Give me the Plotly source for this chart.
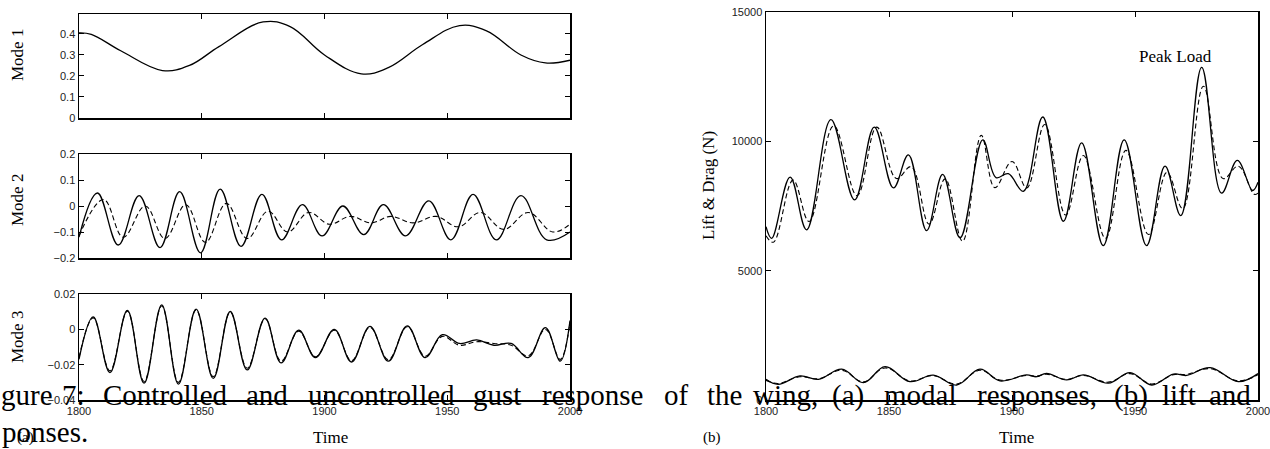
import plotly.graph_objects as go

# ---------------- data ----------------
t_mode1 = [1800, 1805, 1817, 1834, 1845, 1857, 1875, 1886, 1900, 1915, 1926, 1940, 1955, 1966, 1980, 1990, 2000]
mode1 = [0.405, 0.398, 0.32, 0.226, 0.25, 0.34, 0.457, 0.435, 0.30, 0.21, 0.24, 0.35, 0.44, 0.415, 0.30, 0.262, 0.275]

t_mode2_solid = [1800, 1807.5, 1816, 1824.5, 1833, 1841, 1849.5, 1857.5, 1866, 1874.5, 1882.5, 1891, 1899,
                 1907.5, 1916, 1924, 1933, 1942.5, 1951.5, 1960.5, 1970, 1980, 1990.5, 2000]
mode2_solid = [-0.12, 0.05, -0.15, 0.04, -0.16, 0.055, -0.18, 0.065, -0.155, 0.045, -0.13, 0.005, -0.115,
               0.0, -0.11, 0.005, -0.115, 0.02, -0.13, 0.045, -0.13, 0.04, -0.13, -0.1]
t_mode2_dash = [1800, 1810, 1818, 1827, 1835, 1843.5, 1851.5, 1860, 1868.5, 1877, 1885, 1893.5, 1902,
                1910.5, 1919, 1927, 1936, 1945.5, 1954.5, 1963.5, 1973, 1983, 1993, 2000]
mode2_dash = [-0.115, 0.025, -0.12, 0.0, -0.125, 0.005, -0.14, 0.01, -0.125, -0.02, -0.1, -0.025, -0.07,
              -0.04, -0.065, -0.04, -0.065, -0.04, -0.08, -0.025, -0.09, -0.025, -0.1, -0.07]

t_mode3 = [1800, 1805.8, 1812.6, 1819.7, 1826.5, 1833.7, 1840.5, 1847.7, 1854.7, 1861.6, 1868.5, 1875.8, 1882.3,
           1889.5, 1896.3, 1904, 1911, 1918.5, 1926, 1933.7, 1941, 1948, 1955, 1962, 1969, 1976, 1983, 1990, 1996, 2000]
mode3_solid = [-0.017, 0.007, -0.0245, 0.0107, -0.0305, 0.0139, -0.031, 0.0114, -0.0278, 0.0101, -0.023, 0.0064,
               -0.019, -0.0005, -0.016, 0.0, -0.0185, 0.0017, -0.018, 0.002, -0.016, -0.003, -0.008, -0.006,
               -0.009, -0.008, -0.016, 0.001, -0.018, 0.005]
mode3_dash = [-0.016, 0.0065, -0.0235, 0.0103, -0.0295, 0.0132, -0.030, 0.0110, -0.0268, 0.0097, -0.022, 0.0060,
              -0.018, -0.0010, -0.0155, -0.0005, -0.0178, 0.0012, -0.0172, 0.0015, -0.0152, -0.004, -0.009, -0.007,
              -0.008, -0.009, -0.015, 0.0, -0.017, 0.004]

t_lift_solid = [1800, 1802.3, 1809.8, 1816.5, 1826.4, 1836, 1844, 1851.8, 1857.9, 1865.3, 1871.8, 1878.9, 1888.1,
                1893.5, 1898.5, 1904.6, 1912.5, 1920.9, 1928.3, 1937.1, 1945.6, 1954.7, 1962.2, 1968.6, 1977.1,
                1985.2, 1991.6, 1997.8, 2000]
lift_solid = [6700, 6250, 8620, 6580, 10840, 7740, 10550, 8200, 9480, 6550, 8720, 6270, 10060,
              8600, 8750, 8070, 10940, 6910, 9940, 5970, 10060, 5970, 9040, 7130, 12860,
              8000, 9260, 8100, 8420]
t_lift_dash = [1800, 1803, 1811, 1817.5, 1827.5, 1837, 1845, 1853, 1859, 1866.3, 1872.8, 1879.9, 1887.5,
               1893, 1900, 1906, 1913.3, 1921.8, 1929, 1938, 1946.3, 1955.5, 1963, 1969.4, 1977.8,
               1985.8, 1992, 1998.5, 2000]
lift_dash = [6350, 6100, 8500, 6900, 10600, 7900, 10550, 8560, 9020, 6800, 8550, 6140, 10230,
             8210, 9220, 8200, 10650, 7150, 9450, 6250, 9650, 6400, 8800, 7400, 12130,
             8560, 9040, 7950, 8000]

t_drag = [1800, 1804.9, 1813.8, 1821.3, 1830.8, 1839.6, 1848.4, 1858.5, 1868, 1877.5, 1887, 1895.1, 1905.9,
          1910, 1914, 1922.2, 1929, 1939.2, 1948, 1956.8, 1965.6, 1971, 1980.5, 1992, 2000]
drag_solid = [800, 605, 930, 800, 1190, 670, 1290, 710, 960, 580, 1190, 740, 970,
              900, 1030, 775, 970, 650, 1060, 580, 1000, 950, 1250, 710, 1020]
drag_dash = [760, 640, 900, 820, 1150, 700, 1240, 740, 940, 620, 1150, 770, 950,
             920, 1000, 800, 950, 690, 1020, 620, 980, 990, 1210, 740, 980]

x_ticks = [1800, 1850, 1900, 1950, 2000]
mode1_ticks = [0, 0.1, 0.2, 0.3, 0.4]
mode2_ticks = [-0.2, -0.1, 0, 0.1, 0.2]
mode3_ticks = [-0.04, -0.02, 0, 0.02]
force_ticks = [0, 5000, 10000, 15000]

# ---------------- layout helpers ----------------
W, H = 1270, 449


def px_x(p):
    return p / W


def px_y(p):
    return 1 - p / H


def fmt(v):
    return f"{v:g}".replace("-", "\u2212")


fig = go.Figure()
solid = dict(color="black", width=1.3, shape="spline", smoothing=1.1)
dashed = dict(color="black", width=1.1, dash="5px,3px", shape="spline", smoothing=1.1)

fig.add_trace(go.Scatter(x=t_mode1, y=mode1, mode="lines", line=solid, xaxis="x", yaxis="y"))
fig.add_trace(go.Scatter(x=t_mode2_dash, y=mode2_dash, mode="lines", line=dashed, xaxis="x2", yaxis="y2"))
fig.add_trace(go.Scatter(x=t_mode2_solid, y=mode2_solid, mode="lines", line=solid, xaxis="x2", yaxis="y2"))
fig.add_trace(go.Scatter(x=t_mode3, y=mode3_dash, mode="lines", line=dashed, xaxis="x3", yaxis="y3"))
fig.add_trace(go.Scatter(x=t_mode3, y=mode3_solid, mode="lines", line=solid, xaxis="x3", yaxis="y3"))
fig.add_trace(go.Scatter(x=t_lift_dash, y=lift_dash, mode="lines", line=dashed, xaxis="x4", yaxis="y4"))
fig.add_trace(go.Scatter(x=t_lift_solid, y=lift_solid, mode="lines", line=solid, xaxis="x4", yaxis="y4"))
fig.add_trace(go.Scatter(x=t_drag, y=drag_dash, mode="lines", line=dashed, xaxis="x4", yaxis="y4"))
fig.add_trace(go.Scatter(x=t_drag, y=drag_solid, mode="lines", line=solid, xaxis="x4", yaxis="y4"))

tickfont = dict(family="Liberation Sans, Arial, sans-serif", size=11, color="#222")
axis_common = dict(showline=True, linecolor="black", linewidth=1.5, mirror="ticks", ticks="inside",
                   ticklen=5, tickcolor="black", tickwidth=1, showgrid=False, zeroline=False,
                   tickfont=tickfont, fixedrange=True, automargin=False, ticklabeloverflow="allow")

left_dom = [px_x(79), px_x(570)]
right_dom = [px_x(766), px_x(1258)]

layout = dict(
    width=W, height=H, margin=dict(l=0, r=0, t=0, b=0, autoexpand=False),
    paper_bgcolor="white", plot_bgcolor="white", showlegend=False,
    xaxis=dict(domain=left_dom, range=[1800, 2000], tickvals=x_ticks, showticklabels=False, anchor="y", **axis_common),
    yaxis=dict(domain=[px_y(118), px_y(14)], range=[0, 0.495], tickvals=mode1_ticks,
               ticktext=[fmt(v) for v in mode1_ticks], anchor="x", **axis_common),
    xaxis2=dict(domain=left_dom, range=[1800, 2000], tickvals=x_ticks, showticklabels=False, anchor="y2", **axis_common),
    yaxis2=dict(domain=[px_y(258), px_y(154)], range=[-0.2, 0.2], tickvals=mode2_ticks,
                ticktext=[fmt(v) for v in mode2_ticks], anchor="x2", **axis_common),
    xaxis3=dict(domain=left_dom, range=[1800, 2000], tickvals=x_ticks,
                ticktext=[str(v) for v in x_ticks], anchor="y3", **axis_common),
    yaxis3=dict(domain=[px_y(400), px_y(294)], range=[-0.04, 0.02], tickvals=mode3_ticks,
                ticktext=[fmt(v) for v in mode3_ticks], anchor="x3", **axis_common),
    xaxis4=dict(domain=right_dom, range=[1800, 2000], tickvals=x_ticks,
                ticktext=[str(v) for v in x_ticks], anchor="y4", **axis_common),
    yaxis4=dict(domain=[px_y(400), px_y(12)], range=[0, 15000], tickvals=force_ticks,
                ticktext=[str(v) for v in force_ticks], anchor="x4", **axis_common),
)
fig.update_layout(**layout)

serif = "Liberation Serif, Times New Roman, serif"
ann = []


def label(text, xp, yp, size=17, angle=0, anchor="center"):
    ann.append(dict(text=text, x=px_x(xp), y=px_y(yp), xref="paper", yref="paper", showarrow=False,
                    xanchor=anchor, yanchor="middle", textangle=angle,
                    font=dict(family=serif, size=size, color="black")))


label("Mode 1", 17, 55, angle=-90)
label("Mode 2", 17, 200, angle=-90)
label("Mode 3", 17, 337, angle=-90)
label("Lift &amp; Drag (N)", 708, 186, angle=-90)
label("Time", 330, 437)
label("Time", 1017, 437)
label("(a)", 25, 437, size=15)
label("(b)", 712, 437, size=15)
label("Peak Load", 1175, 56)

# caption text that overlaps the figure in the scan
caption_words = ["gure", "7:", "Controlled", "and", "uncontrolled", "gust", "response", "of", "the", "wing,",
                 "(a)", "modal", "responses,", "(b)", "lift", "and"]
caption_centers = [27, 73, 165, 267, 381, 497, 592, 676, 724, 785, 848, 920, 1037, 1131, 1179, 1230]
for w, c in zip(caption_words, caption_centers):
    label(w, c, 395, size=29)
label("ponses.", 0, 432, size=29, anchor="left")

fig.update_layout(annotations=ann)
fig.write_html("out.html", config={"displayModeBar": False, "staticPlot": True},
               post_script="document.body.style.margin='0px';document.body.style.overflow='hidden';")
